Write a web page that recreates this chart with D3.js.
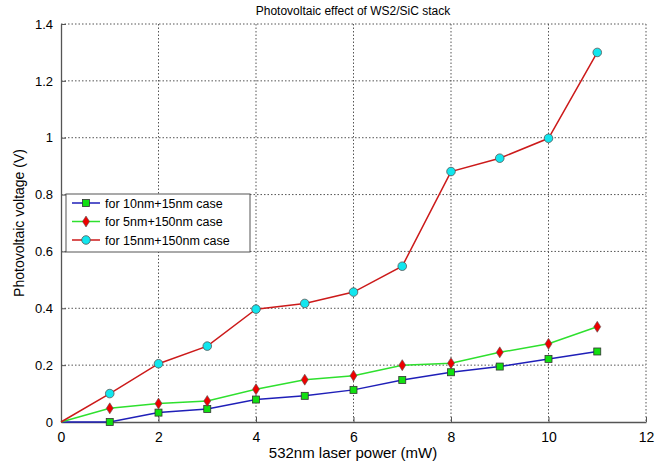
<!DOCTYPE html>
<html>
<head>
<meta charset="utf-8">
<script src="https://cdn.jsdelivr.net/npm/d3@7"></script>
<style>
  body { margin: 0; background: #fff; }
  text { font-family: "Liberation Sans", Arial, sans-serif; fill: #000; }
</style>
</head>
<body>
<script>
var power = [0, 1, 2, 3, 4, 5, 6, 7, 8, 9, 10, 11];
var case10_15 = [0, 0, 0.033, 0.046, 0.079, 0.092, 0.113, 0.148, 0.175, 0.195, 0.222, 0.248];
var case5_150 = [0, 0.048, 0.065, 0.074, 0.115, 0.149, 0.163, 0.2, 0.207, 0.245, 0.275, 0.335];
var case15_150 = [0, 0.1, 0.205, 0.267, 0.397, 0.417, 0.457, 0.548, 0.881, 0.928, 0.998, 1.3];
var seriesNames = ["for 10nm+15nm case", "for 5nm+150nm case", "for 15nm+150nm case"];
var xTicks = [0, 2, 4, 6, 8, 10, 12];
var yTicks = [0, 0.2, 0.4, 0.6, 0.8, 1, 1.2, 1.4];

var series = [
  {name: seriesNames[0], values: case10_15, line: "#1f1fb8", fill: "#11e011", marker: "square"},
  {name: seriesNames[1], values: case5_150, line: "#2ee02e", fill: "#ee0000", marker: "diamond"},
  {name: seriesNames[2], values: case15_150, line: "#cc1a1a", fill: "#11e6ee", marker: "circle"}
];

var width = 662, height = 465;
var plotL = 61, plotR = 646, plotT = 24, plotB = 422;

var svg = d3.select("body").append("svg").attr("width", width).attr("height", height);

var x = d3.scaleLinear().domain([0, 12]).range([plotL, plotR]);
var y = d3.scaleLinear().domain([0, 1.4]).range([plotB, plotT]);

// grid lines (dotted, MATLAB style)
svg.append("g").selectAll("line.gx")
  .data(xTicks.slice(1))
  .enter().append("line")
    .attr("x1", function(d){ return x(d); }).attr("x2", function(d){ return x(d); })
    .attr("y1", plotT).attr("y2", plotB)
    .attr("stroke", "#555").attr("stroke-width", 1).attr("stroke-dasharray", "1.5,2");

svg.append("g").selectAll("line.gy")
  .data(yTicks.slice(1))
  .enter().append("line")
    .attr("x1", plotL).attr("x2", plotR)
    .attr("y1", function(d){ return y(d); }).attr("y2", function(d){ return y(d); })
    .attr("stroke", "#555").attr("stroke-width", 1).attr("stroke-dasharray", "1.5,2");

// axes
var xAxis = d3.axisBottom(x).tickValues(xTicks).tickSizeInner(-5).tickSizeOuter(0).tickPadding(8)
  .tickFormat(d3.format("d"));
var yAxis = d3.axisLeft(y).tickValues(yTicks).tickSizeInner(-5).tickSizeOuter(0).tickPadding(8)
  .tickFormat(function(d){ return d === 0 ? "0" : d3.format("")(d); });

var gx = svg.append("g").attr("transform", "translate(0," + plotB + ")").call(xAxis);
gx.select(".domain").attr("stroke", "#555").attr("stroke-width", 1.3);
gx.selectAll(".tick line").attr("stroke", "#555");
gx.selectAll("text").attr("font-size", 14).attr("dy", "0.85em");

var gy = svg.append("g").attr("transform", "translate(" + plotL + ",0)").call(yAxis);
gy.select(".domain").attr("stroke", "#555").attr("stroke-width", 1.3);
gy.selectAll(".tick line").attr("stroke", "#555");
gy.selectAll("text").attr("font-size", 13);

// lines
var line = d3.line()
  .x(function(d, i){ return x(power[i]); })
  .y(function(d){ return y(d); });

series.forEach(function(s){
  svg.append("path")
    .attr("fill", "none")
    .attr("stroke", s.line)
    .attr("stroke-width", 1.5)
    .attr("d", line(s.values));
});

function drawMarker(g, type, fill, cx, cy){
  if (type === "square") {
    g.append("rect").attr("x", cx - 3.5).attr("y", cy - 3.5).attr("width", 7).attr("height", 7)
      .attr("fill", fill).attr("stroke", "#333").attr("stroke-width", 0.8);
  } else if (type === "diamond") {
    g.append("path")
      .attr("d", "M" + cx + "," + (cy - 5.5) + "L" + (cx + 3.5) + "," + cy + "L" + cx + "," + (cy + 5.5) + "L" + (cx - 3.5) + "," + cy + "Z")
      .attr("fill", fill).attr("stroke", "#555").attr("stroke-width", 0.6);
  } else {
    g.append("circle").attr("cx", cx).attr("cy", cy).attr("r", 4.3)
      .attr("fill", fill).attr("stroke", "#555").attr("stroke-width", 0.8);
  }
}

series.forEach(function(s){
  var g = svg.append("g");
  s.values.forEach(function(v, i){
    if (power[i] > 0) drawMarker(g, s.marker, s.fill, x(power[i]), y(v));
  });
});

// title and axis labels
svg.append("text").attr("x", 353).attr("y", 15).attr("text-anchor", "middle")
  .attr("font-size", 12).text("Photovoltaic effect of WS2/SiC stack");
svg.append("text").attr("x", 353).attr("y", 458).attr("text-anchor", "middle")
  .attr("font-size", 15).text("532nm laser power (mW)");
svg.append("text").attr("transform", "translate(24," + ((plotT + plotB) / 2) + ") rotate(-90)")
  .attr("text-anchor", "middle").attr("font-size", 14).text("Photovoltaic voltage (V)");

// legend
var legend = svg.append("g");
legend.append("rect").attr("x", 66).attr("y", 194).attr("width", 184).attr("height", 58)
  .attr("fill", "#fff").attr("stroke", "#555").attr("stroke-width", 1);
series.forEach(function(s, i){
  var ly = 203 + i * 18.5;
  legend.append("line").attr("x1", 72).attr("x2", 100).attr("y1", ly).attr("y2", ly)
    .attr("stroke", s.line).attr("stroke-width", 1.5);
  drawMarker(legend, s.marker, s.fill, 86, ly);
  legend.append("text").attr("x", 105).attr("y", ly + 4.5).attr("font-size", 12.5).text(s.name);
});
</script>
</body>
</html>
